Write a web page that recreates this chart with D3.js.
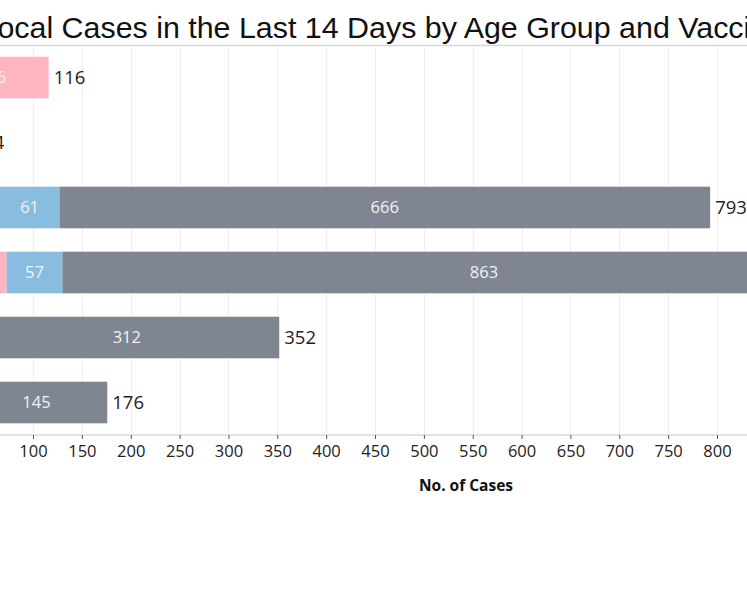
<!DOCTYPE html>
<html>
<head>
<meta charset="utf-8">
<script src="https://cdnjs.cloudflare.com/ajax/libs/d3/7.8.5/d3.min.js"></script>
<style>
  body { margin: 0; background: #fff; overflow: hidden; }
  svg { display: block; }
</style>
</head>
<body>
<svg id="chart" width="747" height="598"></svg>
<script>
// data (chart is cropped on the left, so row labels and the 0/50 ticks are off-screen)
let ageGroups = ["0-11", "12-19", "20-39", "40-59", "60-69", "70 & above"];
let unvaccinated = [116, 20, 66, 73, 24, 18];
let partial = [0, 6, 61, 57, 16, 13];
let fully = [0, 18, 666, 863, 312, 145];
let tickValues = [0, 50, 100, 150, 200, 250, 300, 350, 400, 450, 500, 550, 600, 650, 700, 750, 800];
let seriesNames = ["Unvaccinated", "Partially Vaccinated", "Fully Vaccinated"];
let seriesColors = ["#ffb5bf", "#89bde0", "#7f8691"];

let rows = ageGroups.map(function(g, i) {
  return { group: g, "Unvaccinated": unvaccinated[i], "Partially Vaccinated": partial[i], "Fully Vaccinated": fully[i],
           total: unvaccinated[i] + partial[i] + fully[i] };
});

let svg = d3.select("#chart");
let fontUI = "'Open Sans', 'Noto Sans', sans-serif";

let x = d3.scaleLinear()
  .domain([0, 800])
  .range([-64.7, 717]);

let y = d3.scaleBand()
  .domain(ageGroups)
  .range([45, 435])
  .paddingInner(0.36)
  .paddingOuter(0.18);

//title
svg.append("text")
  .attr("x", -19.5)
  .attr("y", 38)
  .text("Local Cases in the Last 14 Days by Age Group and Vaccination Status")
  .style("font-family", "'Liberation Sans', Arial, sans-serif")
  .style("font-size", "30.4px")
  .style("fill", "#111");

svg.append("line")
  .attr("x1", 0).attr("x2", 747)
  .attr("y1", 45.5).attr("y2", 45.5)
  .style("stroke", "#d6d6d6")
  .style("stroke-width", 1.5);

//grid lines
svg.append("g")
  .selectAll(".grid")
  .data(tickValues)
  .enter().append("line")
    .attr("class", "grid")
    .attr("x1", d => Math.round(x(d)) + 0.5)
    .attr("x2", d => Math.round(x(d)) + 0.5)
    .attr("y1", 47)
    .attr("y2", 435)
    .style("stroke", "#f0f0f0")
    .style("stroke-width", 1);

//stacked bars
let stack = d3.stack().keys(seriesNames);
let layers = stack(rows);

let layerG = svg.append("g")
  .selectAll(".layer")
  .data(layers)
  .enter().append("g")
    .attr("class", "layer")
    .style("fill", (d, i) => seriesColors[i]);

layerG.selectAll("rect")
  .data(d => d)
  .enter().append("rect")
    .attr("x", d => x(d[0]))
    .attr("y", d => y(d.data.group))
    .attr("width", d => x(d[1]) - x(d[0]))
    .attr("height", y.bandwidth());

//labels inside segments
layerG.selectAll(".seg_label")
  .data(d => d.filter(s => (x(s[1]) - x(s[0])) > 28))
  .enter().append("text")
    .attr("class", "seg_label")
    .attr("x", d => (x(d[0]) + x(d[1])) / 2)
    .attr("y", d => y(d.data.group) + y.bandwidth() / 2)
    .attr("dy", "0.36em")
    .attr("text-anchor", "middle")
    .text(d => d[1] - d[0])
    .style("fill", "#f2f2f2")
    .style("font-family", fontUI)
    .style("font-size", "16.5px");

//totals
svg.append("g")
  .selectAll(".total_label")
  .data(rows)
  .enter().append("text")
    .attr("class", "total_label")
    .attr("x", d => x(d.total) + 5)
    .attr("y", d => y(d.group) + y.bandwidth() / 2)
    .attr("dy", "0.36em")
    .text(d => d.total)
    .style("fill", "#222")
    .style("font-family", fontUI)
    .style("font-size", "18.5px");

//row labels (off-screen in the crop)
svg.append("g")
  .selectAll(".row_label")
  .data(ageGroups)
  .enter().append("text")
    .attr("x", x(0) - 10)
    .attr("y", d => y(d) + y.bandwidth() / 2)
    .attr("dy", "0.36em")
    .attr("text-anchor", "end")
    .text(d => d)
    .style("font-family", fontUI)
    .style("font-size", "16px");

//x axis
let axis = svg.append("g")
  .attr("transform", "translate(0,435)")
  .call(d3.axisBottom(x).tickValues(tickValues).tickSize(4).tickPadding(6));

axis.select(".domain").style("stroke", "#d9d9d9").style("stroke-width", 1.5)
  .attr("d", "M" + x(0) + ",0H800");
axis.selectAll(".tick line").style("stroke", "#555");
axis.selectAll(".tick text")
  .style("font-family", fontUI)
  .style("font-size", "16.5px")
  .style("fill", "#222");

svg.append("text")
  .attr("x", 466)
  .attr("y", 491)
  .attr("text-anchor", "middle")
  .text("No. of Cases")
  .style("font-family", fontUI)
  .style("font-weight", "bold")
  .style("font-size", "15.5px")
  .style("fill", "#111");
</script>
</body>
</html>
